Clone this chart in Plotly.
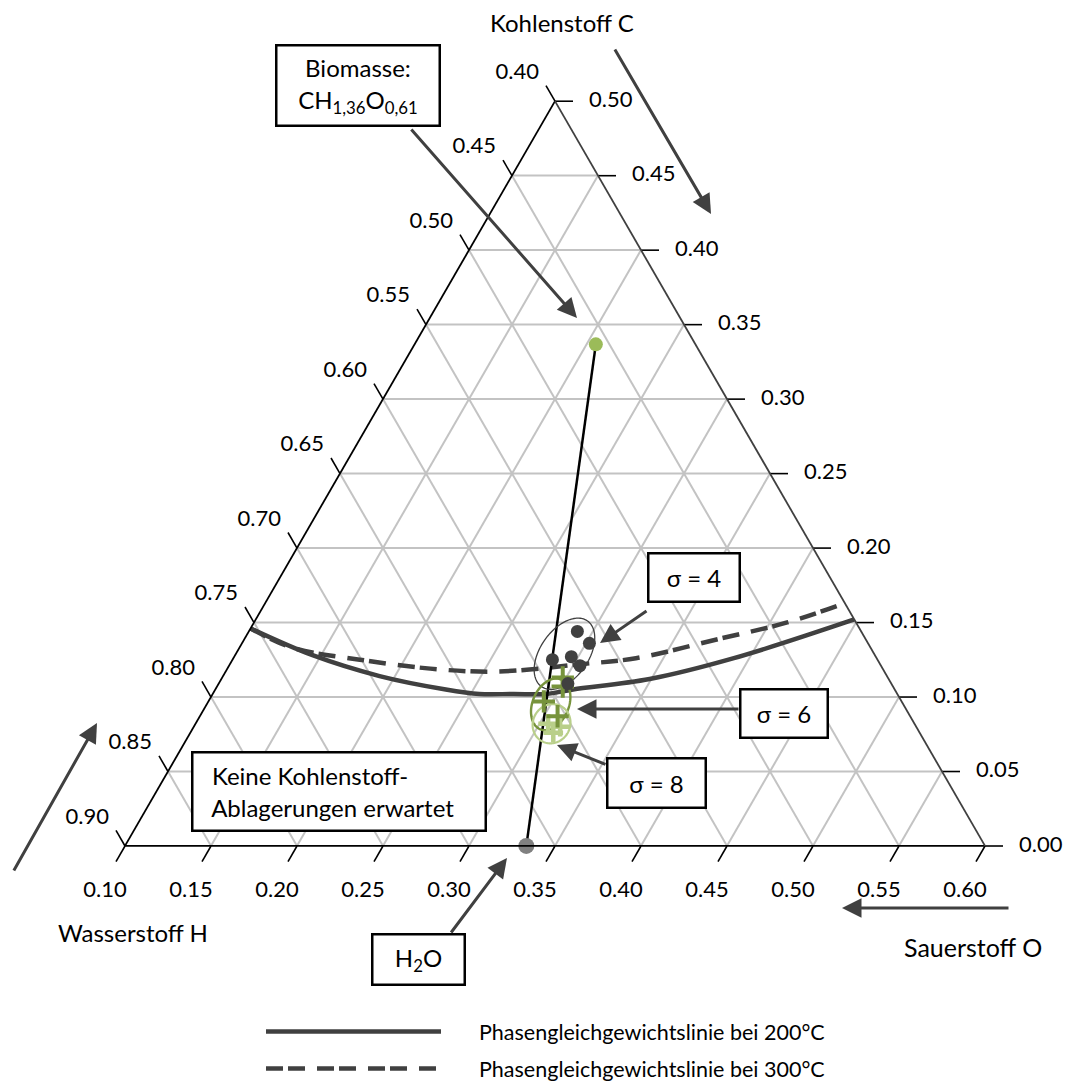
import numpy as np
import plotly.graph_objects as go

# ---------------------------------------------------------------------------
# Data (mole fractions: C = carbon, H = hydrogen, O = oxygen)
# ---------------------------------------------------------------------------
# Phase equilibrium line at 200 °C
eq200_C = [0.146, 0.128, 0.114, 0.105, 0.102, 0.102, 0.102, 0.105, 0.112, 0.126, 0.152]
eq200_H = [0.754, 0.727, 0.695, 0.661, 0.643, 0.623, 0.604, 0.587, 0.539, 0.483, 0.400]
eq200_O = [0.100, 0.145, 0.191, 0.234, 0.255, 0.275, 0.294, 0.308, 0.349, 0.391, 0.448]

# Phase equilibrium line at 300 °C
eq300_C = [0.146, 0.133, 0.125, 0.119, 0.117, 0.122, 0.126, 0.139, 0.150, 0.163]
eq300_H = [0.754, 0.736, 0.701, 0.663, 0.626, 0.574, 0.540, 0.485, 0.440, 0.400]
eq300_O = [0.100, 0.131, 0.174, 0.218, 0.257, 0.304, 0.334, 0.376, 0.410, 0.437]

# Biomass CH1,36O0,61 and water H2O
biomass_CHO = [1 / 2.97, 1.36 / 2.97, 0.61 / 2.97]
water_CHO = [0.0, 2 / 3, 1 / 3]

# Product compositions, sigma = 4
s4_C = [0.144, 0.136, 0.125, 0.127, 0.121, 0.109]
s4_H = [0.565, 0.562, 0.589, 0.577, 0.575, 0.588]
s4_O = [0.291, 0.302, 0.286, 0.296, 0.304, 0.303]

# Product compositions, sigma = 6
s6_C = [0.113, 0.107, 0.097, 0.087]
s6_H = [0.589, 0.592, 0.608, 0.605]
s6_O = [0.298, 0.301, 0.295, 0.308]

# Product compositions, sigma = 8
s8_C = [0.082, 0.080, 0.076]
s8_H = [0.613, 0.607, 0.613]
s8_O = [0.305, 0.313, 0.311]

# Scatter ellipses: centre (C, O), semi-axes, tilt in degrees
ell_s4 = dict(c=0.129, o=0.291, a=0.0233, b=0.0140, tilt=55)
ell_s6 = dict(c=0.095, o=0.300, a=0.0157, b=0.0105, tilt=67)
ell_s8 = dict(c=0.082, o=0.307, a=0.0116, b=0.0108, tilt=60)

# Tick values of the three edges
H_left = [0.40, 0.45, 0.50, 0.55, 0.60, 0.65, 0.70, 0.75, 0.80, 0.85, 0.90]
O_bottom = [0.10, 0.15, 0.20, 0.25, 0.30, 0.35, 0.40, 0.45, 0.50, 0.55, 0.60]
C_right = [0.00, 0.05, 0.10, 0.15, 0.20, 0.25, 0.30, 0.35, 0.40, 0.45, 0.50]

# ---------------------------------------------------------------------------
# Page geometry: the triangle sits in a fixed box, a hidden cartesian overlay
# (x = O + C/2, y = C*sqrt(3)/2) shares its scale for ticks and labels.
# ---------------------------------------------------------------------------
SQ3 = np.sqrt(3) / 2
C_MIN, H_MIN, O_MIN = 0.0, 0.4, 0.1
W, H = 1069, 1081
TRI_LEFT, TRI_BOTTOM, SIDE_PX = 125, 846, 860
UNIT = SIDE_PX / (1 - C_MIN - H_MIN - O_MIN)      # pixels per composition unit


def to_xy(c, o):
    return o + c / 2, c * SQ3


X_RANGE = [O_MIN + C_MIN / 2 - TRI_LEFT / UNIT, O_MIN + C_MIN / 2 + (W - TRI_LEFT) / UNIT]
Y_RANGE = [-(H - TRI_BOTTOM) / UNIT, TRI_BOTTOM / UNIT]


def ellipse_cho(c, o, a, b, tilt, n=140):
    """Tilted ellipse outline in equal-aspect triangle units, returned as C, H, O."""
    t = np.linspace(0, 2 * np.pi, n)
    phi = np.radians(tilt)
    x0, y0 = to_xy(c, o)
    x = x0 + a * np.cos(t) * np.cos(phi) - b * np.sin(t) * np.sin(phi)
    y = y0 + a * np.cos(t) * np.sin(phi) + b * np.sin(t) * np.cos(phi)
    cc = y / SQ3
    oo = x - cc / 2
    return cc, 1 - cc - oo, oo


LINE = "#404040"
GREEN = "#9bbb59"
DKGREEN = "#77933c"
LTGREEN = "#b9cf8a"
FONT = "Lato"
TICK_FONT = dict(family=FONT, size=22, color="black")

fig = go.Figure()

# ---- edge ticks and tick labels (each tick continues its own grid line) ----
tick_len = 18 / UNIT
dirs = {"left": (-0.5, SQ3), "bottom": (-0.5, -SQ3), "right": (1.0, 0.0)}
edge_pts = {
    "left": [to_xy(1 - h - O_MIN, O_MIN) for h in H_left],
    "bottom": [to_xy(C_MIN, o) for o in O_bottom],
    "right": [to_xy(c, 1 - c - H_MIN) for c in C_right],
}
edge_txt = {
    "left": [f"{h:.2f}" for h in H_left],
    "bottom": [f"{o:.2f}" for o in O_bottom],
    "right": [f"{c:.2f}" for c in C_right],
}
label_gap = {"left": 32 / UNIT, "bottom": 40 / UNIT, "right": 34 / UNIT}
label_pos = {"left": "middle left", "bottom": "bottom center", "right": "middle right"}

tx, ty = [], []
for side, pts in edge_pts.items():
    dx, dy = dirs[side]
    for x0, y0 in pts:
        tx += [x0, x0 + dx * tick_len, None]
        ty += [y0, y0 + dy * tick_len, None]
fig.add_trace(go.Scatter(x=tx, y=ty, mode="lines", line=dict(color="black", width=1.6),
                         showlegend=False, hoverinfo="skip"))
for side, pts in edge_pts.items():
    dx, dy = dirs[side]
    g = label_gap[side]
    fig.add_trace(go.Scatter(
        x=[p[0] + dx * g for p in pts], y=[p[1] + dy * g for p in pts],
        mode="text", text=edge_txt[side], textposition=label_pos[side],
        textfont=TICK_FONT, showlegend=False, hoverinfo="skip"))

# ---- phase equilibrium lines ----
PAD = "\u00a0" * 6
fig.add_trace(go.Scatterternary(
    a=eq200_C, b=eq200_H, c=eq200_O, mode="lines",
    line=dict(color=LINE, width=4.5, shape="spline", smoothing=1),
    name=PAD + "Phasengleichgewichtslinie bei 200°C",
    legendgroup="g1", hoverinfo="skip"))
fig.add_trace(go.Scatterternary(
    a=eq300_C, b=eq300_H, c=eq300_O, mode="lines",
    line=dict(color=LINE, width=4.5, shape="spline", smoothing=1, dash="17px,5px,17px,12px"),
    name=PAD + "Phasengleichgewichtslinie bei 300°C",
    legendgroup="g2", hoverinfo="skip"))

# Dilution line biomass -> water
fig.add_trace(go.Scatterternary(
    a=[biomass_CHO[0], water_CHO[0]], b=[biomass_CHO[1], water_CHO[1]],
    c=[biomass_CHO[2], water_CHO[2]], mode="lines",
    line=dict(color="black", width=2.5), showlegend=False, hoverinfo="skip"))

# Ellipses
for ell, col, w in [(ell_s4, LINE, 1.3), (ell_s6, DKGREEN, 2.4), (ell_s8, LTGREEN, 2.2)]:
    ec, eh, eo = ellipse_cho(**ell)
    fig.add_trace(go.Scatterternary(
        a=ec, b=eh, c=eo, mode="lines", line=dict(color=col, width=w),
        showlegend=False, hoverinfo="skip"))

# Measured points
fig.add_trace(go.Scatterternary(
    a=s8_C, b=s8_H, c=s8_O, mode="markers",
    marker=dict(symbol="cross-thin", size=14, line=dict(color=LTGREEN, width=4.5)),
    showlegend=False, hoverinfo="skip"))
fig.add_trace(go.Scatterternary(
    a=s6_C, b=s6_H, c=s6_O, mode="markers",
    marker=dict(symbol="cross-thin", size=16, line=dict(color=DKGREEN, width=4)),
    showlegend=False, hoverinfo="skip"))
fig.add_trace(go.Scatterternary(
    a=s4_C, b=s4_H, c=s4_O, mode="markers",
    marker=dict(size=13, color=LINE), showlegend=False, hoverinfo="skip"))

fig.add_trace(go.Scatterternary(
    a=[biomass_CHO[0]], b=[biomass_CHO[1]], c=[biomass_CHO[2]], mode="markers",
    marker=dict(size=14, color=GREEN), showlegend=False, hoverinfo="skip"))
fig.add_trace(go.Scatterternary(
    a=[water_CHO[0]], b=[water_CHO[1]], c=[water_CHO[2]], mode="markers",
    marker=dict(size=16, color="#808080"), showlegend=False, hoverinfo="skip",
    cliponaxis=False))

# ---------------------------------------------------------------------------


def paper(x, y):
    return x / W, 1 - y / H


def axis(linecolor):
    return dict(
        ticks="", showticklabels=False, linecolor=linecolor, linewidth=1.8,
        showline=True, showgrid=True, gridcolor="#c3c3c3", gridwidth=1.6,
        dtick=0.05, title=dict(text=""))


annotations = []


def box(text, cx, cy, w, h, align="center"):
    x, y = paper(cx, cy)
    annotations.append(dict(
        x=x, y=y, xref="paper", yref="paper", xanchor="center", yanchor="middle",
        text=text, showarrow=False,
        width=w, height=h, align=align, valign="middle", bgcolor="white",
        bordercolor="black", borderwidth=2.5, borderpad=0,
        font=dict(family=FONT, size=24, color="black")))


def arrow(tx, ty, sx, sy, width=3):
    x, y = paper(tx, ty)
    annotations.append(dict(
        x=x, y=y, xref="paper", yref="paper", text="", showarrow=True,
        ax=sx - tx, ay=sy - ty, axref="pixel", ayref="pixel",
        arrowhead=2, arrowsize=1.3, arrowwidth=width, arrowcolor=LINE))


def label(text, cx, cy, size=24):
    x, y = paper(cx, cy)
    annotations.append(dict(
        x=x, y=y, xref="paper", yref="paper", xanchor="center", yanchor="middle",
        text=text, showarrow=False,
        font=dict(family=FONT, size=size, color="black")))


# Axis titles and direction arrows
label("Kohlenstoff C", 562, 22)
label("Wasserstoff H", 133, 932)
label("Sauerstoff O", 973, 947, size=25)
arrow(711, 214, 614, 48)
arrow(97, 723, 13, 872)
arrow(842, 908, 1010, 908)

# Call-outs
arrow(577, 318, 410, 128)
box("Biomasse:<br>CH<sub>1,36</sub>O<sub>0,61</sub>", 358, 85.5, 161, 78)
arrow(600, 643, 648, 610)
box("σ = 4", 694, 577.5, 89, 46)
arrow(577, 709, 740, 709)
box("σ = 6", 784, 713.5, 85, 46)
arrow(557, 745, 607, 765)
box("σ = 8", 656.5, 783, 96, 47)
arrow(507, 858, 450, 934)
box("H<sub>2</sub>O", 418.5, 959.5, 90, 48)
box("\u00a0\u00a0\u00a0Keine Kohlenstoff-<br>\u00a0\u00a0\u00a0Ablagerungen erwartet",
    339, 791, 291, 76, align="left")

lx, ly = paper(261, 1011)

fig.update_layout(
    width=W, height=H,
    margin=dict(l=0, r=0, t=0, b=0, autoexpand=False),
    paper_bgcolor="white", plot_bgcolor="rgba(0,0,0,0)",
    font=dict(family=FONT, size=22, color="black"),
    xaxis=dict(range=X_RANGE, visible=False, fixedrange=True),
    yaxis=dict(range=Y_RANGE, visible=False, fixedrange=True),
    ternary=dict(
        sum=1, bgcolor="white",
        domain=dict(x=[TRI_LEFT / W, (TRI_LEFT + SIDE_PX) / W],
                    y=[(H - TRI_BOTTOM) / H, (H - TRI_BOTTOM + 745) / H]),
        aaxis=dict(min=C_MIN, **axis("black")),
        baxis=dict(min=H_MIN, **axis("black")),
        caxis=dict(min=O_MIN, **axis(LINE)),
    ),
    showlegend=True,
    legend=dict(x=lx, y=ly, xanchor="left", yanchor="top", itemwidth=175,
                traceorder="grouped", tracegroupgap=6, bgcolor="rgba(0,0,0,0)",
                font=dict(family=FONT, size=21.5, color="black")),
    annotations=annotations,
)

fig.write_html("out.html")
